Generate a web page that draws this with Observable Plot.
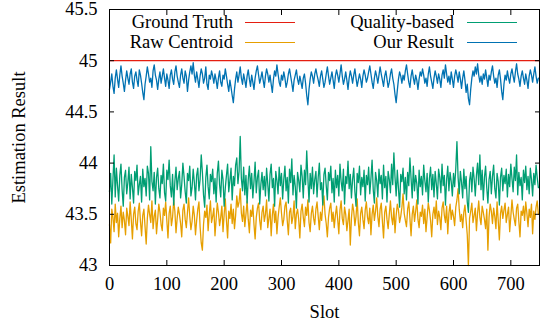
<!DOCTYPE html>
<html>
<head>
<meta charset="utf-8">
<script src="https://cdn.jsdelivr.net/npm/d3@7"></script>
<script src="https://cdn.jsdelivr.net/npm/@observablehq/plot@0.6"></script>
<style>
  html, body { margin: 0; padding: 0; background: #fff; }
  #wrap { position: relative; width: 540px; height: 323px; font-family: "Liberation Serif", serif; }
  #wrap svg text { font-variant: normal !important; font-variant-numeric: normal !important; }
  .lg { position: absolute; font-size: 18.5px; line-height: 20px; white-space: nowrap; color: #000; }
  .sw { position: absolute; height: 0; width: 50px; border-top: 1.3px solid; }
</style>
</head>
<body>
<div id="wrap"></div>
<script>
const slotStep = 2;
const groundTruth = 45;
const xTicks = [0, 100, 200, 300, 400, 500, 600, 700];
const yTicks = [43, 43.5, 44, 44.5, 45, 45.5];
const seriesNames = ["Ground Truth", "Raw Centroid", "Quality-based", "Our Result"];
const seriesColors = ["#e51e10", "#e69f00", "#009e73", "#0072b2"];

const ourResult = [
44.72,44.79,44.87,44.75,44.68,44.83,44.91,44.82,44.74,44.86,44.95,44.85,44.78,44.70,44.81,
44.90,44.83,44.77,44.87,44.92,44.79,44.73,44.85,44.89,44.81,44.75,44.91,44.86,44.78,44.69,
44.62,44.77,44.85,44.94,44.87,44.79,44.83,44.74,44.90,44.96,44.86,44.81,44.72,44.82,44.89,
44.78,44.85,44.92,44.83,44.75,44.87,44.81,44.73,44.86,44.91,44.82,44.77,44.89,44.95,44.85,
44.79,44.74,44.86,44.92,44.83,44.78,44.90,44.85,44.70,44.81,44.89,44.95,44.87,44.98,44.86,
44.79,44.89,44.82,44.74,44.85,44.92,44.87,44.78,44.83,44.94,44.77,44.72,44.86,44.82,44.90,
44.85,44.78,44.87,44.81,44.73,44.83,44.90,44.79,44.75,44.86,44.82,44.92,44.85,44.77,44.70,
44.81,44.74,44.66,44.59,44.72,44.82,44.89,44.79,44.86,44.94,44.83,44.77,44.87,44.81,44.74,
44.85,44.91,44.82,44.75,44.86,44.79,44.72,44.83,44.90,44.95,44.86,44.78,44.83,44.89,44.81,
44.74,44.85,44.92,44.87,44.79,44.86,44.77,44.69,44.82,44.90,44.85,44.96,44.87,44.79,44.75,
44.86,44.81,44.89,44.83,44.74,44.79,44.87,44.92,44.85,44.78,44.70,44.81,44.86,44.91,44.82,
44.77,44.85,44.79,44.73,44.83,44.87,44.78,44.66,44.57,44.72,44.82,44.89,44.85,44.78,44.87,
44.92,44.86,44.81,44.75,44.85,44.90,44.82,44.74,44.79,44.87,44.94,44.85,44.77,44.83,44.89,
44.81,44.73,44.85,44.91,44.86,44.79,44.87,44.96,44.85,44.77,44.82,44.89,44.81,44.72,44.83,
44.90,44.85,44.78,44.86,44.92,44.83,44.75,44.81,44.87,44.82,44.74,44.85,44.91,44.86,44.79,
44.83,44.89,44.95,44.87,44.79,44.73,44.83,44.90,44.85,44.78,44.86,44.94,44.87,44.81,44.75,
44.85,44.90,44.82,44.74,44.79,44.87,44.92,44.83,44.77,44.67,44.59,44.71,44.82,44.89,44.85,
44.78,44.86,44.81,44.90,44.96,44.87,44.79,44.74,44.85,44.91,44.83,44.77,44.86,44.81,44.72,
44.82,44.89,44.85,44.92,44.86,44.78,44.83,44.75,44.87,44.94,44.85,44.79,44.73,44.83,44.90,
44.85,44.78,44.87,44.82,44.74,44.86,44.91,44.83,44.96,44.87,44.79,44.85,44.77,44.89,44.82,
44.74,44.85,44.91,44.86,44.79,44.89,44.82,44.73,44.83,44.90,44.81,44.69,44.77,44.63,44.57,
44.72,44.83,44.90,44.85,44.94,44.87,44.97,44.86,44.79,44.85,44.77,44.87,44.82,44.91,44.83,
44.75,44.86,44.81,44.89,44.95,44.85,44.78,44.83,44.74,44.86,44.91,44.82,44.70,44.62,44.77,
44.86,44.81,44.90,44.83,44.78,44.87,44.92,44.85,44.79,44.89,44.97,44.87,44.82,44.75,44.85,
44.90,44.83,44.77,44.87,44.81,44.73,44.85,44.91,44.86,44.79,44.87,44.94,44.85,44.78,44.83
];

const rawCentroid = [
43.40,43.22,43.55,43.47,43.33,43.60,43.42,43.51,43.28,43.46,43.58,43.37,43.52,43.44,43.30,
43.56,43.48,43.39,43.62,43.45,43.26,43.50,43.57,43.41,43.35,43.53,43.61,43.43,43.29,43.49,
43.55,43.38,43.21,43.46,43.59,43.50,43.42,43.63,43.36,43.48,43.54,43.31,43.45,43.60,43.52,
43.40,43.34,43.56,43.49,43.62,43.44,43.27,43.51,43.58,43.39,43.47,43.64,43.53,43.32,43.46,
43.57,43.50,43.41,43.28,43.54,43.60,43.45,43.37,43.52,43.66,43.48,43.35,43.43,43.58,43.49,
43.30,43.44,43.55,43.62,43.38,43.22,43.15,43.40,43.53,43.47,43.59,43.34,43.50,43.63,43.42,
43.48,43.56,43.29,43.45,43.61,43.52,43.39,43.47,43.58,43.33,43.50,43.65,43.44,43.27,43.53,
43.46,43.60,43.41,43.55,43.36,43.49,43.68,43.57,43.62,43.75,43.51,43.43,43.58,43.38,43.50,
43.63,43.45,43.32,43.54,43.48,43.59,43.40,43.26,43.47,43.56,43.61,43.44,43.35,43.52,43.58,
43.43,43.50,43.64,43.37,43.46,43.55,43.29,43.49,43.60,43.42,43.53,43.31,43.47,43.57,43.66,
43.51,43.39,43.45,43.58,43.62,43.44,43.30,43.52,43.56,43.41,43.48,43.63,43.36,43.50,43.55,
43.45,43.27,43.53,43.60,43.47,43.38,43.57,43.49,43.64,43.42,43.33,43.51,43.58,43.46,43.40,
43.55,43.62,43.48,43.35,43.52,43.44,43.59,43.68,43.50,43.41,43.28,43.47,43.56,43.61,43.43,
43.52,43.37,43.49,43.58,43.45,43.31,43.54,43.63,43.46,43.40,43.57,43.50,43.34,43.44,43.55,
43.20,43.46,43.60,43.53,43.39,43.48,43.65,43.42,43.29,43.51,43.57,43.45,43.36,43.54,43.62,
43.47,43.41,43.56,43.30,43.50,43.59,43.44,43.53,43.66,43.48,43.38,43.55,43.61,43.43,43.27,
43.52,43.58,43.45,43.36,43.50,43.63,43.47,43.40,43.56,43.32,43.49,43.60,43.54,43.42,43.48,
43.57,43.70,43.51,43.44,43.38,43.55,43.62,43.46,43.29,43.50,43.58,43.43,43.53,43.64,43.45,
43.37,43.52,43.48,43.59,43.41,43.55,43.33,43.47,43.61,43.54,43.44,43.28,43.50,43.57,43.46,
43.63,43.40,43.53,43.47,43.35,43.56,43.62,43.49,43.42,43.58,43.31,43.51,43.60,43.45,43.54,
43.48,43.39,43.57,43.64,43.75,43.55,43.43,43.50,43.37,43.52,43.59,43.44,43.30,43.00,43.46,
43.53,43.61,43.42,43.49,43.56,43.34,43.51,43.63,43.47,43.40,43.58,43.52,43.45,43.36,43.55,
43.15,43.47,43.60,43.53,43.41,43.56,43.48,43.36,43.62,43.44,43.25,43.51,43.58,43.46,43.54,
43.61,43.42,43.50,43.57,43.33,43.48,43.64,43.52,43.45,43.39,43.56,43.60,43.43,43.28,43.53,
43.49,43.58,43.44,43.62,43.51,43.38,43.55,43.47,43.60,43.31,43.53,43.45,43.57,43.63,43.50
];

const qualityBased = [
43.72,43.90,43.60,43.84,44.08,43.67,43.95,43.78,43.63,43.88,43.99,43.74,43.58,43.86,43.93,
43.70,43.81,43.96,43.65,43.89,43.76,43.61,43.92,43.83,43.98,43.69,43.79,43.87,43.62,43.94,
43.77,43.85,43.68,43.97,43.90,43.64,44.16,43.82,43.73,43.91,43.60,43.86,43.95,43.75,43.66,
43.88,43.80,43.99,43.71,43.63,43.93,43.84,44.03,43.78,43.67,43.89,43.59,43.82,43.96,43.74,
43.85,43.92,43.66,43.79,44.00,43.87,43.72,43.61,43.90,43.83,43.97,43.68,43.76,43.94,43.81,
43.64,43.88,43.95,43.73,43.84,44.08,43.91,43.69,43.57,43.86,43.98,43.77,43.65,43.89,43.82,
43.94,43.70,43.85,43.62,43.90,44.02,43.79,43.67,43.93,43.84,43.58,43.76,43.88,43.99,43.72,
43.83,43.95,43.64,43.87,43.78,43.98,44.05,43.80,43.92,44.26,43.85,43.73,43.96,43.69,43.88,
43.61,43.84,43.97,43.75,43.90,43.66,43.82,44.01,43.71,43.86,43.93,43.60,43.79,43.91,43.74,
43.87,43.68,43.95,43.80,43.63,43.89,43.99,43.76,43.85,43.58,43.92,43.83,43.70,43.96,43.78,
43.90,43.65,43.84,43.97,43.73,43.86,43.61,43.94,43.81,44.04,43.69,43.88,43.77,43.56,43.91,
43.83,43.72,43.98,43.87,43.66,43.93,43.79,44.12,43.85,43.62,43.90,43.75,43.96,43.70,43.84,
43.92,43.67,43.86,44.00,43.74,43.81,43.59,43.89,43.95,43.78,43.64,43.91,43.83,43.97,43.71,
43.85,43.62,43.93,43.76,43.88,43.68,43.99,43.82,43.73,43.94,43.60,43.87,43.80,44.02,43.75,
43.89,43.66,43.84,43.95,43.72,43.58,43.90,43.81,43.97,43.69,43.86,43.77,43.93,43.63,43.88,
43.79,43.96,43.70,43.85,44.03,43.74,43.61,43.91,43.83,43.67,43.94,43.80,43.88,43.65,43.98,
43.76,43.87,43.62,43.92,43.84,43.71,43.99,43.79,44.10,43.86,43.68,43.93,43.75,43.57,43.89,
43.82,43.95,43.70,43.86,43.64,43.91,43.78,44.05,43.85,43.66,43.97,43.73,43.88,43.80,43.60,
43.93,43.77,43.87,43.69,43.98,43.83,43.72,43.90,43.62,43.85,43.96,43.74,43.89,43.67,43.92,
43.80,43.65,43.94,43.86,43.71,43.99,43.78,43.88,43.59,43.84,43.97,43.73,43.91,43.82,43.68,
43.90,43.77,43.95,44.21,43.86,43.70,43.92,43.81,43.66,43.94,43.75,43.87,43.62,43.52,43.83,
43.91,43.72,43.96,43.85,43.68,43.88,44.00,43.79,44.08,43.74,43.93,43.64,43.86,43.97,43.76,
43.61,43.84,43.92,43.70,43.87,43.98,43.75,43.66,43.90,43.82,43.59,43.86,43.95,43.73,43.88,
43.80,43.94,43.67,43.89,43.77,43.99,43.85,43.72,43.96,43.83,44.08,43.69,43.91,43.78,43.86,
43.64,43.93,43.81,43.97,43.74,43.87,43.70,43.95,43.84,43.68,43.90,43.79,43.98,43.86,43.76
];

const slotOf = (d, i) => i * slotStep;

const chart = Plot.plot({
  width: 540,
  height: 323,
  marginLeft: 109,
  marginRight: 1,
  marginTop: 9,
  marginBottom: 58,
  style: "font-family: 'Liberation Serif', serif; font-size: 18.5px; color: #000; background: #fff;",
  x: { domain: [0, 750] },
  y: { domain: [43, 45.5] },
  marks: [
    Plot.ruleY([groundTruth], { stroke: seriesColors[0], strokeWidth: 1.3 }),
    Plot.line(rawCentroid, { x: slotOf, y: d => d, stroke: seriesColors[1], strokeWidth: 1.3 }),
    Plot.line(qualityBased, { x: slotOf, y: d => d, stroke: seriesColors[2], strokeWidth: 1.3 }),
    Plot.line(ourResult, { x: slotOf, y: d => d, stroke: seriesColors[3], strokeWidth: 1.3 }),
    Plot.frame({ stroke: "#000", strokeWidth: 1 }),
    Plot.axisX(xTicks, { anchor: "bottom", tickSize: 0, tickPadding: 11, fontVariant: "normal", label: "Slot", labelAnchor: "center", labelOffset: 52, labelArrow: "none" }),
    Plot.axisX(xTicks, { anchor: "bottom", tickSize: -5, tickFormat: () => "", label: null }),
    Plot.axisX(xTicks, { anchor: "top", tickSize: -5, tickFormat: () => "", label: null }),
    Plot.axisY(yTicks, { anchor: "left", tickSize: 0, tickPadding: 12, fontVariant: "normal", tickFormat: d => String(d), label: "Estimation Result", labelAnchor: "center", labelOffset: 98, labelArrow: "none" }),
    Plot.axisY(yTicks, { anchor: "left", tickSize: -5, tickFormat: () => "", label: null }),
    Plot.axisY(yTicks, { anchor: "right", tickSize: -5, tickFormat: () => "", label: null })
  ]
});

const wrap = document.getElementById("wrap");
wrap.appendChild(chart);

const legendItems = [
  { name: seriesNames[0], color: seriesColors[0], textRight: 233, lineLeft: 245, cy: 22 },
  { name: seriesNames[1], color: seriesColors[1], textRight: 233, lineLeft: 245, cy: 42 },
  { name: seriesNames[2], color: seriesColors[2], textRight: 454, lineLeft: 467, cy: 22 },
  { name: seriesNames[3], color: seriesColors[3], textRight: 454, lineLeft: 467, cy: 42 }
];
for (const it of legendItems) {
  const t = document.createElement("div");
  t.className = "lg";
  t.textContent = it.name;
  t.style.right = (540 - it.textRight) + "px";
  t.style.top = (it.cy - 10) + "px";
  wrap.appendChild(t);
  const s = document.createElement("div");
  s.className = "sw";
  s.style.left = it.lineLeft + "px";
  s.style.top = it.cy + "px";
  s.style.borderTopColor = it.color;
  wrap.appendChild(s);
}
</script>
</body>
</html>
